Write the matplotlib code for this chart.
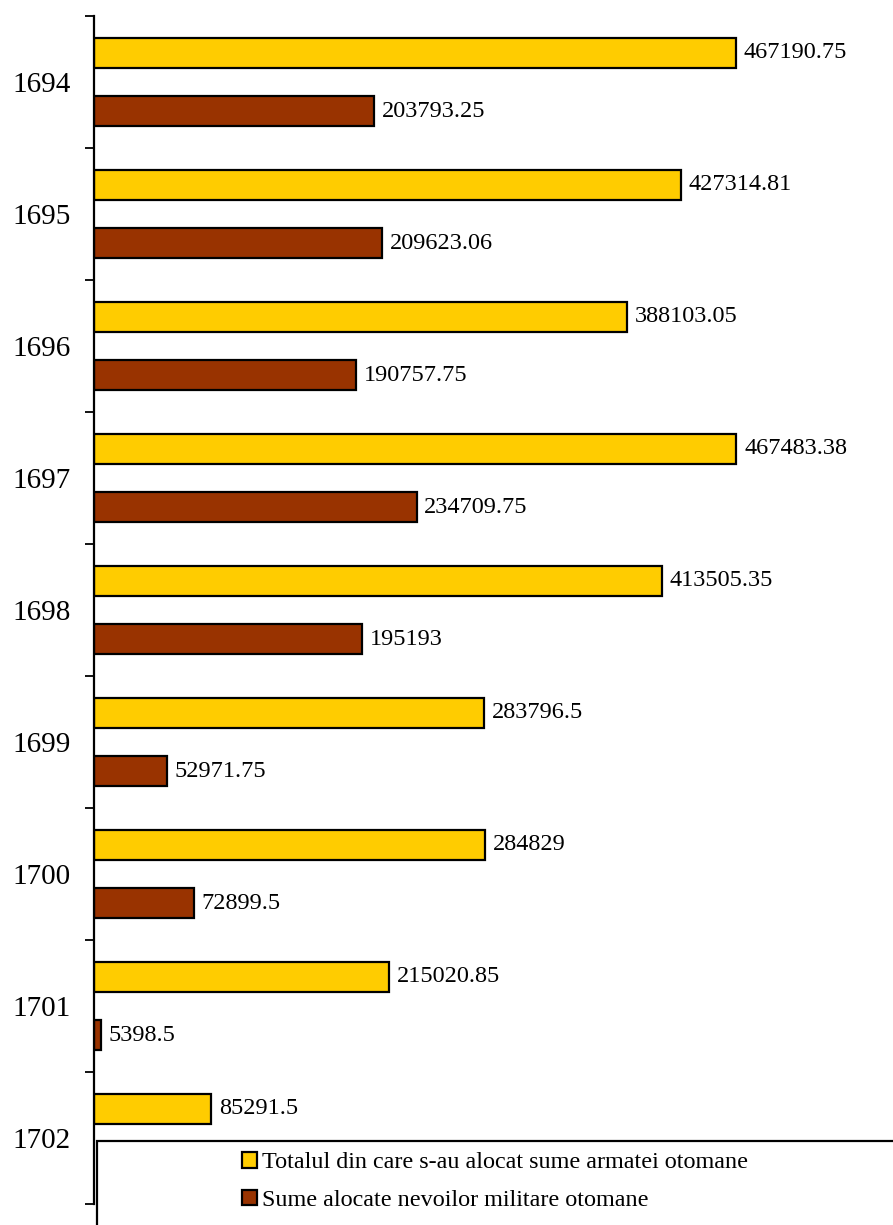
import numpy as np
import matplotlib
matplotlib.use("Agg")
import matplotlib.pyplot as plt
from matplotlib.patches import Patch, Rectangle

plt.rcParams['font.family'] = ['Liberation Serif', 'DejaVu Serif']

years = ["1694", "1695", "1696", "1697", "1698", "1699", "1700", "1701", "1702"]
total = [467190.75, 427314.81, 388103.05, 467483.38, 413505.35,
         283796.5, 284829, 215020.85, 85291.5]
military = [203793.25, 209623.06, 190757.75, 234709.75, 195193,
            52971.75, 72899.5, 5398.5, np.nan]
series_names = ["Totalul din care s-au alocat sume armatei otomane",
                "Sume alocate nevoilor militare otomane"]

YELLOW = "#FFCC00"
BROWN = "#993300"

W, H = 893, 1225
fig = plt.figure(figsize=(W / 100, H / 100), dpi=100)
ax = fig.add_axes([94 / W, (H - 1204) / H, 1 - 94 / W, 1188 / H])

y = np.arange(len(years))
bh = 0.225
off = 0.222
ax.barh(y - off, total, height=bh, color=YELLOW, edgecolor="black", linewidth=1.6)
ax.barh(y + off, military, height=bh, color=BROWN, edgecolor="black", linewidth=1.6)


def fmt(v):
    return ("%.2f" % v).rstrip("0").rstrip(".")


for yi, v in zip(y, total):
    ax.text(v + 5500, yi - off, fmt(v), va="center", ha="left", fontsize=17.5)
for yi, v in zip(y, military):
    if not np.isnan(v):
        ax.text(v + 5500, yi + off, fmt(v), va="center", ha="left", fontsize=17.5)

ax.set_xlim(0, 581400)
ax.set_ylim(len(years) - 0.5, -0.5)
ax.set_yticks(y)
ax.set_yticklabels(years, fontsize=21)
ax.set_yticks(np.arange(len(years) + 1) - 0.5, minor=True)
ax.tick_params(axis="y", which="major", length=0, pad=17)
ax.tick_params(axis="y", which="minor", length=6.5, width=1.3)
ax.set_xticks([])
for s in ["top", "right", "bottom"]:
    ax.spines[s].set_visible(False)
ax.spines["left"].set_linewidth(1.6)

# legend box, running past the figure edge as in the source
box = Rectangle((97 / W, -0.1), 1.0, (H - 1141) / H + 0.1, transform=fig.transFigure,
                facecolor="white", edgecolor="black", linewidth=1.6, zorder=5)
fig.add_artist(box)

handles = [Patch(facecolor=YELLOW, edgecolor="black", linewidth=1.6),
           Patch(facecolor=BROWN, edgecolor="black", linewidth=1.6)]
leg = fig.legend(handles, series_names, loc="upper left",
                 bbox_to_anchor=(242 / W, (H - 1152) / H), frameon=False,
                 fontsize=17.4, handlelength=0.62, handleheight=0.62,
                 handletextpad=0.22, labelspacing=0.68, borderpad=0, borderaxespad=0)
leg.set_zorder(6)

fig.savefig("out.png", dpi=100)
